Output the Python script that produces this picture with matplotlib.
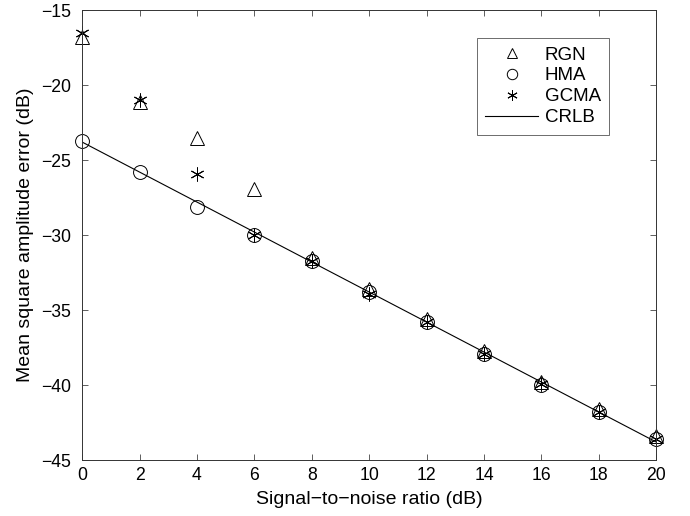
import numpy as np
import matplotlib
matplotlib.use('Agg')
import matplotlib.pyplot as plt

plt.rcParams['font.family'] = ['Liberation Sans', 'DejaVu Sans']

snr = [0, 2, 4, 6, 8, 10, 12, 14, 16, 18, 20]
rgn = [-16.8, -21.1, -23.5, -26.9, -31.5, -33.6, -35.6, -37.7, -39.8, -41.6, -43.4]
hma = [-23.7, -25.8, -28.1, -30.0, -31.7, -33.8, -35.8, -37.9, -40.0, -41.8, -43.6]
gcma = [-16.5, -21.0, -25.9, -30.0, -31.7, -33.9, -35.8, -37.9, -39.9, -41.8, -43.6]
crlb = [-23.8, -25.8, -27.8, -29.8, -31.8, -33.8, -35.8, -37.8, -39.8, -41.8, -43.8]

fig = plt.figure(figsize=(6.9, 5.16), dpi=100)
ax = fig.add_axes([0.119, 0.1085, 0.832, 0.872])

mk = dict(linestyle='none', markersize=10, markeredgecolor='black',
          markeredgewidth=0.7, clip_on=False)
ax.plot(snr, rgn, marker='^', markerfacecolor='none', label='RGN', **mk)
ax.plot(snr, hma, marker='o', markerfacecolor='none', label='HMA', **mk)
ax.plot(snr, gcma, marker=(6, 2, 0), label='GCMA', **mk)
ax.plot(snr, crlb, color='black', linewidth=0.8, label='CRLB')

ax.set_xlim(0, 20)
ax.set_ylim(-45, -15)
ax.set_xticks(range(0, 21, 2))
ax.set_yticks(range(-45, -14, 5))
ax.tick_params(direction='in', top=True, right=True, labelsize=12.7, length=4,
               width=0.6, color='#444444')
ax.tick_params(axis='x', pad=5)
ax.tick_params(axis='y', pad=8)
for s in ax.spines.values():
    s.set_linewidth(0.7)
    s.set_color('#333333')

ax.set_xlabel('Signal\u2212to\u2212noise ratio (dB)', fontsize=14, labelpad=5)
ax.set_ylabel('Mean square amplitude error (dB)', fontsize=14, labelpad=5)

leg = ax.legend(loc='upper right', bbox_to_anchor=(0.918, 0.938), borderaxespad=0,
                fontsize=13.5, fancybox=False, edgecolor='#555555', framealpha=1,
                handlelength=2.8, handletextpad=0.35, borderpad=0.45,
                labelspacing=0.2, markerscale=0.75)
leg.get_frame().set_linewidth(0.6)

fig.savefig('out.png', dpi=100)
